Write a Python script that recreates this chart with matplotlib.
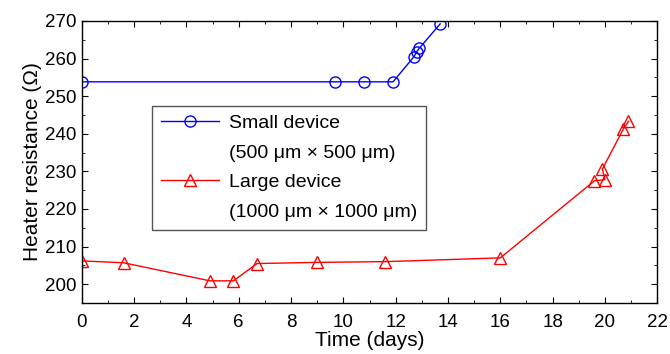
import matplotlib
matplotlib.use("Agg")
import matplotlib.pyplot as plt
from matplotlib.lines import Line2D
from matplotlib.ticker import MultipleLocator

plt.rcParams['font.family'] = ['Liberation Sans', 'DejaVu Sans']

# small device (500 um x 500 um)
small_t = [0.0, 9.7, 10.8, 11.9, 12.7, 12.8, 12.9, 13.7]
small_r = [253.8, 253.8, 253.8, 253.8, 260.5, 261.8, 262.7, 269.2]

# large device (1000 um x 1000 um)
large_t = [0.0, 1.6, 4.9, 5.8, 6.7, 9.0, 11.6, 16.0, 19.6, 20.0, 19.9, 20.7, 20.9]
large_r = [206.2, 205.7, 200.9, 200.9, 205.5, 205.8, 206.0, 207.0, 227.5, 227.8, 230.6, 241.2, 243.3]

labels = ['Small device', '(500 \u03bcm \u00d7 500 \u03bcm)',
          'Large device', '(1000 \u03bcm \u00d7 1000 \u03bcm)']

fig = plt.figure(figsize=(6.7, 3.54), dpi=100)
ax = fig.add_axes([0.122, 0.144, 0.859, 0.797])

ax.plot(small_t, small_r, color='blue', lw=1, marker='o', ms=8,
        mfc='none', mec='blue', mew=1)
ax.plot(large_t, large_r, color='red', lw=1, marker='^', ms=9,
        mfc='none', mec='red', mew=1)

ax.set_xlim(0, 22)
ax.set_ylim(195, 270)
ax.xaxis.set_major_locator(MultipleLocator(2))
ax.xaxis.set_minor_locator(MultipleLocator(1))
ax.yaxis.set_major_locator(MultipleLocator(10))
ax.yaxis.set_minor_locator(MultipleLocator(5))
ax.tick_params(which='both', direction='in', top=True, right=True, labelsize=13.5)
ax.tick_params(which='major', length=4)
ax.tick_params(which='minor', length=2)
ax.tick_params(axis='x', which='major', pad=8)
ax.tick_params(axis='y', which='major', pad=4)
for s in ax.spines.values():
    s.set_linewidth(1)

ax.set_xlabel('Time (days)', fontsize=15, labelpad=0)
ax.set_ylabel('Heater resistance (\u03a9)', fontsize=15, labelpad=2)

handles = [
    Line2D([], [], color='blue', lw=1, marker='o', ms=8, mfc='none', mec='blue'),
    Line2D([], [], color='none'),
    Line2D([], [], color='red', lw=1, marker='^', ms=9, mfc='none', mec='red'),
    Line2D([], [], color='none'),
]
leg = ax.legend(handles, labels, loc='upper left', bbox_to_anchor=(0.122, 0.70),
                fontsize=14, handlelength=3.0, handletextpad=0.5,
                labelspacing=0.62, fancybox=False, edgecolor='#555555',
                framealpha=1, borderpad=0.45, borderaxespad=0)
leg.get_frame().set_linewidth(1)

fig.savefig('out.png', dpi=100)
